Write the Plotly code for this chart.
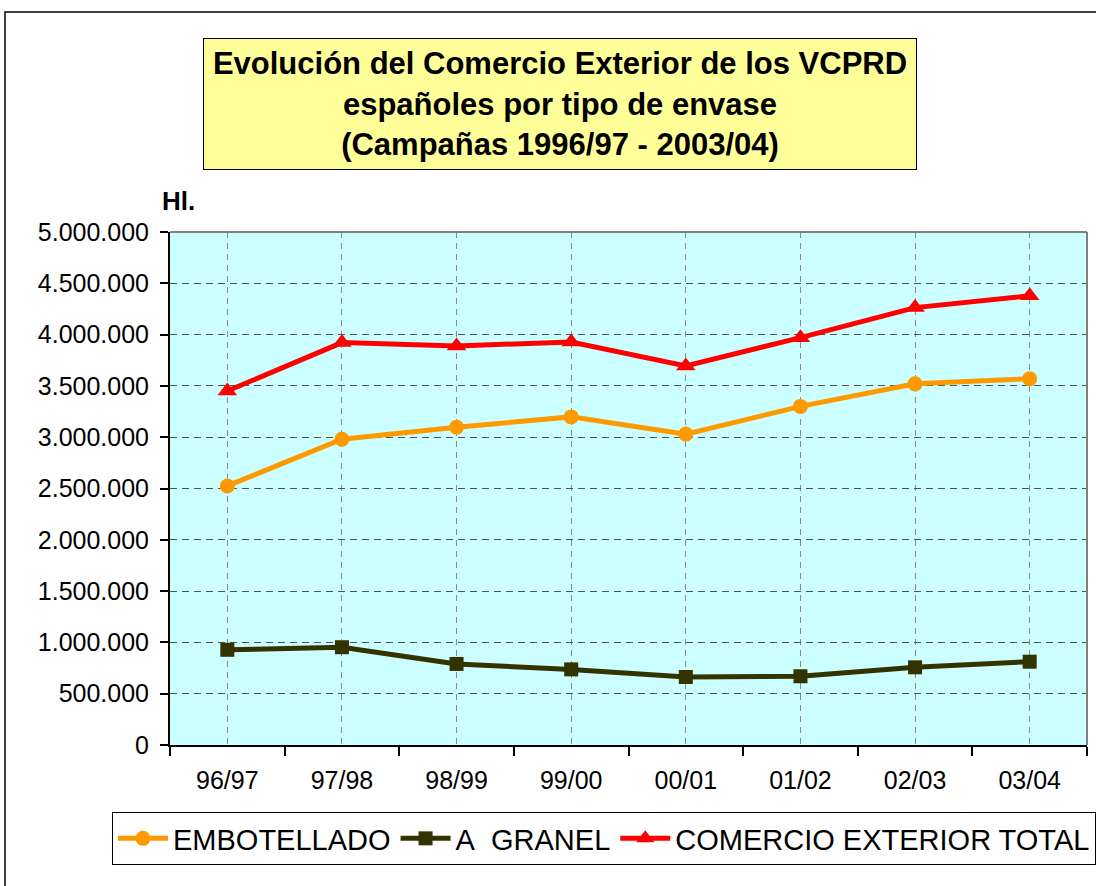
import plotly.graph_objects as go

categories = ["96/97", "97/98", "98/99", "99/00", "00/01", "01/02", "02/03", "03/04"]
embotellado = [2525000, 2980000, 3097000, 3198000, 3030000, 3300000, 3520000, 3570000]
granel = [928000, 953000, 790000, 737000, 663000, 670000, 757000, 812000]
total = [3450000, 3922000, 3890000, 3928000, 3695000, 3970000, 4263000, 4378000]
y_ticks = [0, 500000, 1000000, 1500000, 2000000, 2500000, 3000000, 3500000, 4000000, 4500000, 5000000]
y_ticktext = ["0", "500.000", "1.000.000", "1.500.000", "2.000.000", "2.500.000",
              "3.000.000", "3.500.000", "4.000.000", "4.500.000", "5.000.000"]

FONT = "Liberation Sans, Arial, sans-serif"

fig = go.Figure()
fig.add_trace(go.Scatter(x=categories, y=embotellado, name="EMBOTELLADO", mode="lines+markers",
                         line=dict(color="#FF9900", width=5),
                         marker=dict(symbol="circle", size=15, color="#FF9900")))
fig.add_trace(go.Scatter(x=categories, y=granel, name="A\u00a0\u00a0GRANEL", mode="lines+markers",
                         line=dict(color="#333300", width=5),
                         marker=dict(symbol="square", size=14, color="#333300")))
fig.add_trace(go.Scatter(x=categories, y=total, name="COMERCIO EXTERIOR TOTAL", mode="lines+markers",
                         line=dict(color="#FF0000", width=5),
                         marker=dict(symbol="triangle-up", size=17, color="#FF0000")))

W, H = 1096, 886
L, R, T, B = 170, 1087, 232, 745

def px(x):
    return (x - L) / (R - L)

def py(y):
    return (B - y) / (B - T)

fig.update_layout(
    width=W, height=H,
    margin=dict(l=L, r=W - R, t=T, b=H - B),
    paper_bgcolor="white",
    plot_bgcolor="#CCFFFF",
    font=dict(family=FONT, color="black"),
    showlegend=True,
    legend=dict(orientation="h", x=px(120), y=py(812), xanchor="left", yanchor="top",
                bordercolor="black", borderwidth=1, bgcolor="white",
                font=dict(size=29, family=FONT, color="black"),
                itemwidth=50, tracegroupgap=0, traceorder="normal"),
    xaxis=dict(
        type="category", range=[-0.5, 7.5],
        showline=True, linecolor="black", linewidth=2,
        ticks="", showgrid=True, gridcolor="#8a8a8a", griddash="6px,5px", gridwidth=1,
        tickfont=dict(size=25, family=FONT, color="black"),
        ticklabelstandoff=12,
        minor=dict(tickmode="array", tickvals=[-0.5, 0.5, 1.5, 2.5, 3.5, 4.5, 5.5, 6.5, 7.5],
                   ticks="outside", ticklen=9, tickwidth=2, tickcolor="black", showgrid=False),
        zeroline=False,
    ),
    yaxis=dict(
        range=[0, 5000000], tickmode="array", tickvals=y_ticks, ticktext=y_ticktext,
        showline=True, linecolor="black", linewidth=2,
        ticks="outside", ticklen=8, tickwidth=2, tickcolor="black",
        showgrid=True, gridcolor="#4a5555", griddash="7px,5px", gridwidth=1.2,
        tickfont=dict(size=25, family=FONT, color="black"),
        ticklabelstandoff=6,
        zeroline=False,
    ),
)

# plot-area top/right gray borders
fig.add_shape(type="line", xref="paper", yref="paper", x0=0, y0=1, x1=1, y1=1,
              line=dict(color="#808080", width=2))
fig.add_shape(type="line", xref="paper", yref="paper", x0=1, y0=0, x1=1, y1=1,
              line=dict(color="#808080", width=2))
# outer chart border
fig.add_shape(type="rect", xref="paper", yref="paper", x0=px(5), y0=py(12), x1=px(1102), y1=py(892),
              line=dict(color="black", width=1.5), fillcolor="rgba(0,0,0,0)", layer="below")

# title box
fig.add_annotation(xref="paper", yref="paper", x=px(560), y=py(104), xanchor="center", yanchor="middle",
                   text="<b>Evolución del Comercio Exterior de los VCPRD<br>españoles por tipo de envase<br>(Campañas 1996/97 - 2003/04)</b>",
                   showarrow=False, font=dict(size=31, family=FONT, color="black"),
                   bgcolor="#FFFF99", bordercolor="black", borderwidth=1, borderpad=0,
                   width=712, height=130, align="center")
# unit label
fig.add_annotation(xref="paper", yref="paper", x=px(178), y=py(201), xanchor="center", yanchor="middle",
                   text="<b>Hl.</b>", showarrow=False, font=dict(size=26, family=FONT, color="black"))

fig.write_html("out.html", config={"displayModeBar": False},
               post_script="document.body.style.margin='0';")
